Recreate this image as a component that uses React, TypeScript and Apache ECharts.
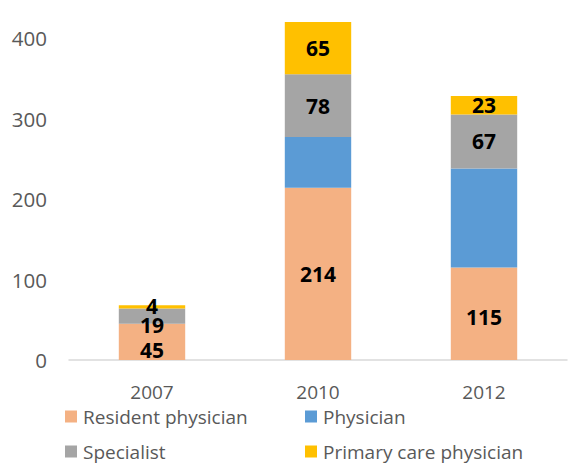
import React, { useEffect, useRef } from "react";
import * as echarts from "echarts";

const categories = ["2007", "2010", "2012"];
const residentPhysician = [45, 214, 115];
const physician = [0, 63, 123];
const specialist = [19, 78, 67];
const primaryCare = [4, 65, 23];
const yTicks = [0, 100, 200, 300, 400];

const FONT = "'Open Sans', sans-serif";

export default function App() {
  const ref = useRef<HTMLDivElement>(null);
  useEffect(() => {
    if (!ref.current) return;
    const chart = echarts.init(ref.current, undefined, { renderer: "svg" });
    const label = (show: boolean) => ({
      show,
      position: "inside" as const,
      color: "#000000",
      fontWeight: "bold" as const,
      fontSize: 21,
      lineHeight: 16,
      fontFamily: FONT,
    });
    // Excel nudged the crowded 2007 labels downward
    const mk = (name: string, data: number[], color: string, show: boolean, shifts: number[]) => ({
      name,
      type: "bar" as const,
      stack: "total",
      data,
      barWidth: "40%",
      clip: false,
      itemStyle: { color },
      label: label(show),
      labelLayout: (p: any) => ({ dy: shifts[p.dataIndex] || 0, hideOverlap: false }),
      emphasis: { disabled: true },
    });
    const legendItem = (name: string, left: number, top: number) => ({
      data: [name],
      left,
      top,
      icon: "rect",
      itemWidth: 12,
      itemHeight: 12,
      itemGap: 0,
      padding: 0,
      textStyle: { color: "#595959", fontSize: 19, fontFamily: FONT, padding: [0, 0, 0, 1] },
      selectedMode: false,
    });
    chart.setOption({
      animation: false,
      grid: { left: 69, right: 13, top: 38, bottom: 103 },
      xAxis: {
        type: "category",
        data: categories,
        axisLine: { lineStyle: { color: "#D9D9D9", width: 1.5 } },
        axisTick: { show: false },
        axisLabel: { color: "#595959", fontSize: 19, fontFamily: FONT, margin: 22 },
      },
      yAxis: {
        type: "value",
        min: yTicks[0],
        max: yTicks[yTicks.length - 1],
        interval: 100,
        axisLine: { show: false },
        axisTick: { show: false },
        splitLine: { show: false },
        axisLabel: { color: "#595959", fontSize: 20.5, fontFamily: FONT, margin: 22 },
      },
      legend: [
        legendItem("Resident physician", 65, 407),
        legendItem("Physician", 305, 407),
        legendItem("Specialist", 65, 442),
        legendItem("Primary care physician", 305, 442),
      ],
      series: [
        mk("Resident physician", residentPhysician, "#F4B183", true, [8, 0, 3]),
        mk("Physician", physician, "#5B9BD5", false, [0, 0, 0]),
        mk("Specialist", specialist, "#A5A5A5", true, [9, 0, 0]),
        mk("Primary care physician", primaryCare, "#FFC000", true, [-1, 0, 0]),
      ],
    });
    return () => chart.dispose();
  }, []);
  return <div ref={ref} style={{ width: 580, height: 463, position: "absolute", left: 0, top: 0 }} />;
}
